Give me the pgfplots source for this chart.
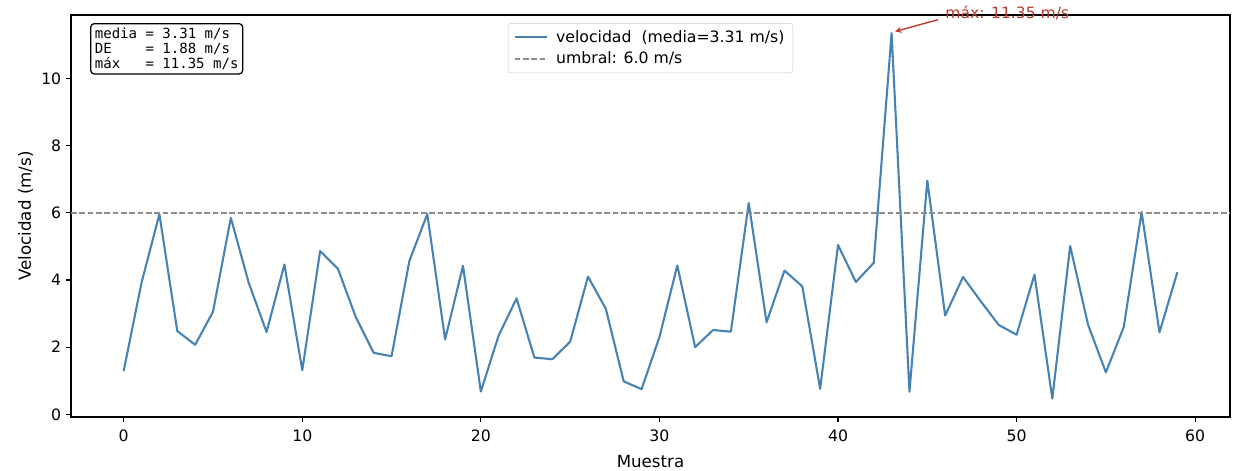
\documentclass[border=0pt]{standalone}
\usepackage{pgfplots}
\pgfplotsset{compat=1.18}
\usepackage{fontspec}
\setmainfont{DejaVu Sans}
\newfontfamily\mono{DejaVu Sans Mono}
\definecolor{steel}{HTML}{4682B4}
\definecolor{annred}{HTML}{C0392B}
\definecolor{thr}{HTML}{8C8C8C}
\begin{document}
\begin{tikzpicture}
\useasboundingbox (-51.12pt,-38.88pt) rectangle ++(889.2pt,339.12pt);
\begin{axis}[
  scale only axis,
  width=834.48pt, height=289.44pt,
  at={(0,0)}, anchor=south west,
  xmin=-2.95, xmax=61.95,
  ymin=-0.08, ymax=11.89,
  xtick={0,10,...,60},
  ytick={0,2,...,10},
  tick align=outside,
  major tick length=3.5pt,
  tick style={black, line width=0.8pt},
  xtick pos=bottom, ytick pos=left,
  axis line style={line width=0.8pt},
  /pgf/number format/assume math mode=true,
  tick label style={font=\fontsize{11.3}{13}\selectfont},
  xticklabel style={yshift=-2.5pt},
  xlabel={Muestra}, ylabel={Velocidad (m/s)},
  label style={font=\fontsize{12}{14}\selectfont},
  xlabel style={yshift=-3pt},
  ylabel style={yshift=-1pt},
  clip=false,
  legend style={at={(0.5,0.98)}, anchor=north, draw=black!20, rounded corners=2pt,
    font=\fontsize{11.3}{13}\selectfont, row sep=1.5pt, column sep=4pt, inner xsep=4pt, inner ysep=3pt},
  legend cell align=left,
  legend image code/.code={\draw[#1] (0pt,0pt) -- (23pt,0pt);},
]
\addplot[steel, line width=1.5pt, line join=round] coordinates {
(0,1.29) (1,3.92) (2,5.96) (3,2.48) (4,2.07) (5,3.05) (6,5.85) (7,3.92) (8,2.45) (9,4.46)
(10,1.31) (11,4.86) (12,4.33) (13,2.89) (14,1.83) (15,1.73) (16,4.57) (17,5.96) (18,2.23) (19,4.42)
(20,0.68) (21,2.35) (22,3.45) (23,1.69) (24,1.64) (25,2.16) (26,4.10) (27,3.14) (28,0.98) (29,0.75)
(30,2.30) (31,4.43) (32,2.00) (33,2.51) (34,2.46) (35,6.29) (36,2.74) (37,4.28) (38,3.81) (39,0.76)
(40,5.04) (41,3.94) (42,4.51) (43,11.35) (44,0.67) (45,6.96) (46,2.94) (47,4.09) (48,3.36) (49,2.66)
(50,2.37) (51,4.16) (52,0.47) (53,5.01) (54,2.67) (55,1.25) (56,2.60) (57,6.02) (58,2.44) (59,4.23)
};
\addlegendentry{velocidad\ \ (media=3.31 m/s)}
\addplot[thr, line width=1.1pt, dash pattern=on 4pt off 2pt, forget plot] coordinates {(-2.95,6) (61.95,6)};
\addlegendimage{thr, line width=1.1pt, dash pattern=on 4pt off 2pt}
\addlegendentry{umbral: 6.0 m/s}
\node[anchor=north west, draw=black, line width=0.9pt, rounded corners=2.5pt, fill=white,
  align=left, inner xsep=3pt, inner ysep=3pt,
  font=\mono\fontsize{10.1}{10.8}\selectfont] at (rel axis cs:0.0165,0.98)
  {media = 3.31 m/s\\DE\ \ \ \ = 1.88 m/s\\máx\ \ \ = 11.35 m/s};
\draw[annred, line width=1pt, -stealth] (axis cs:45.6,11.75) -- (axis cs:43.2,11.4);
\node[annred, anchor=base west, font=\fontsize{11.2}{13}\selectfont, inner sep=0pt] at (axis cs:46.0,11.8) {máx: 11.35 m/s};
\end{axis}
\end{tikzpicture}
\end{document}
